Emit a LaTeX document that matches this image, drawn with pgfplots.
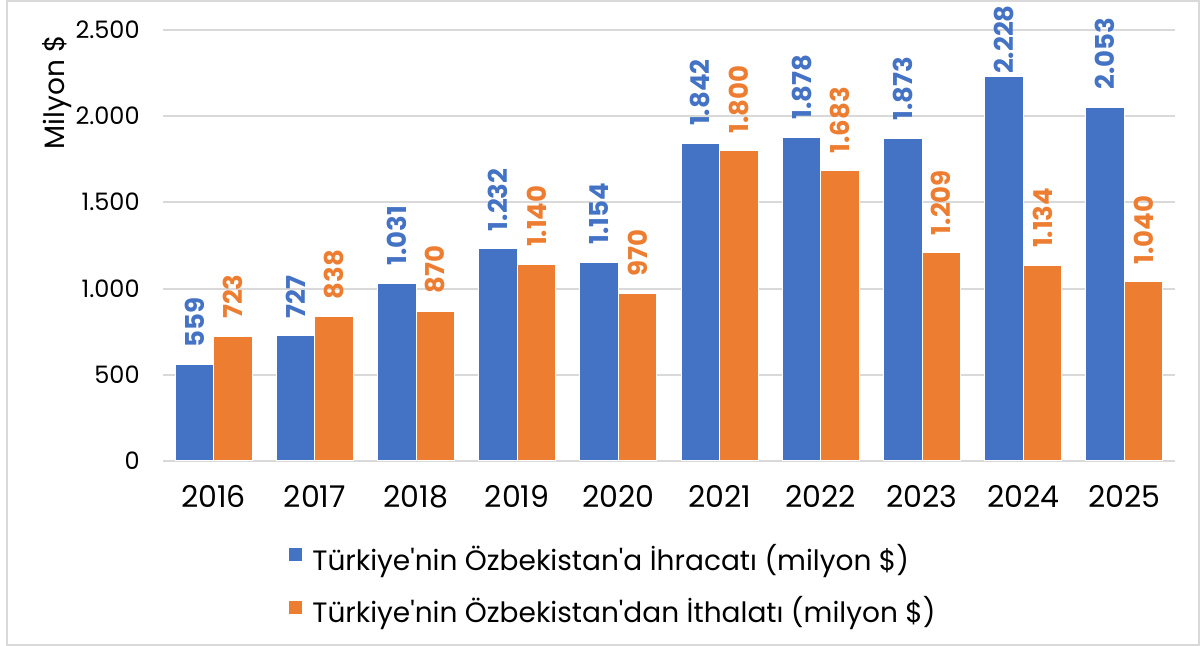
\documentclass[border=0pt]{standalone}
\usepackage{fontspec}
\setmainfont{Poppins}[Ligatures=TeXOff]
\usepackage{pgfplots}
\pgfplotsset{compat=1.18}

\definecolor{expBlue}{HTML}{4472C4}
\definecolor{impOrange}{HTML}{ED7D31}
\definecolor{gridGray}{HTML}{D9D9D9}

\begin{document}
\begin{tikzpicture}
\useasboundingbox (0,0) rectangle (600pt,323pt);
\draw[gridGray, line width=1pt] (3.5pt,0.5pt) rectangle (599.5pt,322.5pt);
\begin{axis}[
    at={(81.5pt,92.5pt)}, anchor=south west,
    scale only axis, width=506pt, height=215.5pt,
    ybar=0pt, bar width=19.25pt,
    xmin=-0.5, xmax=9.5, ymin=0, ymax=2500,
    xtick={0,1,2,3,4,5,6,7,8,9},
    xticklabels={2016,2017,2018,2019,2020,2021,2022,2023,2024,2025},
    ytick={0,500,1000,1500,2000,2500},
    ymajorgrids, grid style={gridGray, line width=1pt},
    axis line style={draw=none},
    major tick length=0pt,
    clip=false,
    /pgf/number format/.cd, use comma, 1000 sep={.}, assume math mode=true,
    /pgfplots/.cd,
    xticklabel style={font=\fontsize{15}{17}\selectfont, anchor=base, yshift=-23.5pt},
    yticklabel style={font=\fontsize{12}{14}\selectfont, anchor=base east, inner sep=0pt, xshift=-11.5pt, yshift=-4.25pt},
    ylabel={Milyon \$},
    ylabel style={at={(rel axis cs:-0.1047,0.856)}, anchor=center, font=\fontsize{14}{16}\selectfont},
    % labels sit 9pt above the bar, except the tallest one which is pushed down
    visualization depends on={y \as \rawy},
    nodes near coords={\pgfmathprintnumber{\pgfplotspointmeta}},
    every node near coord/.append style={rotate=90, anchor=west, inner ysep=0pt,
        /utils/exec={\pgfmathparse{\rawy>2200 ? 1.2 : 8.5}\edef\labgap{\pgfmathresult pt}},
        inner xsep=\labgap,
        font=\bfseries\fontsize{13}{15}\selectfont},
    legend style={at={(0.1235,-0.1995)}, anchor=north west, draw=none, fill=none,
        inner sep=0pt, row sep=12pt, column sep=4.5pt,
        nodes={inner sep=0pt, text height=10pt, text depth=3pt},
        font=\fontsize{14}{16}\selectfont},
    legend cell align=left,
    legend image code/.code={\fill[#1] (0pt,0.6pt) rectangle (7pt,7.6pt);},
]
\addplot[fill=expBlue, draw=white, line width=0.5pt,
    every node near coord/.append style={text=expBlue}]
    coordinates {(0,559) (1,727) (2,1031) (3,1232) (4,1154) (5,1842) (6,1878) (7,1873) (8,2228) (9,2053)};
\addplot[fill=impOrange, draw=white, line width=0.5pt,
    every node near coord/.append style={text=impOrange}]
    coordinates {(0,723) (1,838) (2,870) (3,1140) (4,970) (5,1800) (6,1683) (7,1209) (8,1134) (9,1040)};
\legend{Türkiye'nin Özbekistan'a İhracatı (milyon \$),Türkiye'nin Özbekistan'dan İthalatı (milyon \$)}
\end{axis}
\end{tikzpicture}
\end{document}
